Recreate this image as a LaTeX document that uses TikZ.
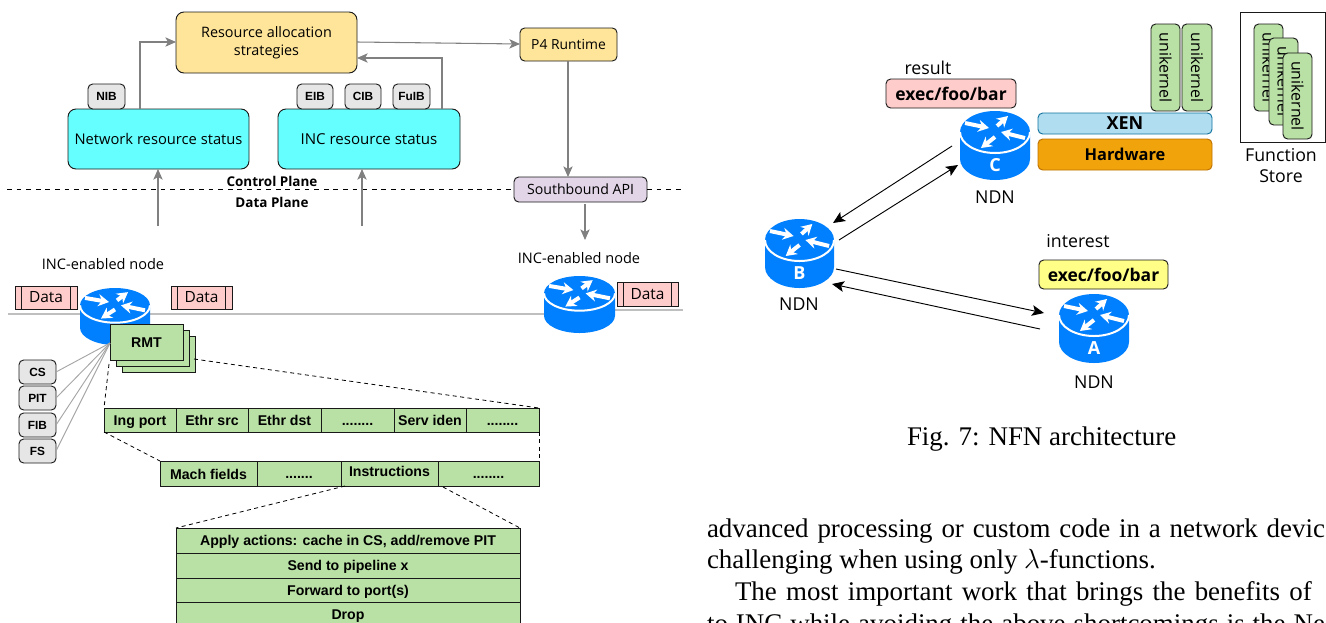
\documentclass[tikz,border=0pt]{standalone}
\usepackage{fontspec}
\usepackage{graphicx}
\setmainfont{Liberation Serif}
\newfontfamily\comicf{Open Sans}
\newfontfamily\arialf{Liberation Sans}
\usetikzlibrary{arrows.meta,calc}
\definecolor{amber}{HTML}{FFE599}
\definecolor{cyanbox}{HTML}{66FFFF}
\definecolor{greybox}{HTML}{E6E6E6}
\definecolor{greenbox}{HTML}{B9E0A5}
\definecolor{pinkbox}{HTML}{FFCCCC}
\definecolor{lilac}{HTML}{E1D5E7}
\definecolor{routerblue}{HTML}{007FFF}
\definecolor{xenfill}{HTML}{B1DDF0}
\definecolor{xenline}{HTML}{10739E}
\definecolor{hwfill}{HTML}{F0A30A}
\definecolor{hwline}{HTML}{BD7000}
\definecolor{yellowbox}{HTML}{FFFF88}
\definecolor{linkgrey}{HTML}{808080}
\definecolor{palegrey}{HTML}{A6A6A6}
\newcommand{\fsz}[1]{\fontsize{#1}{#1}\selectfont}
\tikzset{
  base/.style={draw=black!90,line width=.7pt,inner sep=0pt,outer sep=0pt,align=center,text=black},
  comic/.style={font=\comicf\fsz{10.8}},
  bigcomic/.style={font=\comicf\fsz{13.3}},
  bigbold/.style={font=\comicf\bfseries\fsz{13.1}},
  bigbox/.style={base,comic,rounded corners=6pt},
  smallbox/.style={base,comic,rounded corners=3.5pt},
  tagbox/.style={base,font=\arialf\bfseries\fsz{8.9},fill=greybox,rounded corners=3.5pt},
  cellbox/.style={base,font=\arialf\bfseries\fsz{10.6},fill=greenbox,text height=7.5pt,text depth=0pt},
  databox/.style={base,font=\comicf\fsz{11.6},fill=pinkbox,
    path picture={\draw[black!90,line width=.6pt]
      ([xshift=4.8pt]path picture bounding box.north west)--([xshift=4.8pt]path picture bounding box.south west)
      ([xshift=-4.8pt]path picture bounding box.north east)--([xshift=-4.8pt]path picture bounding box.south east);}},
  unibox/.style={base,font=\comicf\fsz{11.9},fill=greenbox,rounded corners=3.5pt},
  txt/.style={inner sep=0pt,outer sep=0pt,align=center,text=black,comic},
  link/.style={draw=linkgrey,line width=.8pt,-{Stealth[length=8pt,width=7pt,inset=2pt]}},
  spoke/.style={draw=palegrey,line width=.7pt},
  rail/.style={draw=black!25,line width=.9pt},
  zoomdash/.style={draw=black,line width=.6pt,dash pattern=on 3pt off 2.6pt},
  planedash/.style={draw=black,line width=.6pt,dash pattern=on 3.6pt off 3.6pt},
  ndnarrow/.style={draw=black,line width=.7pt,-{Stealth[length=9pt,width=8pt,inset=2pt]}},
  bodytext/.style={inner sep=0pt,outer sep=0pt,anchor=base west,font=\fsz{20.2}},
}
% name, x1,y1,x2,y2 (px), style, text
\newcommand{\rbox}[7]{%
  \pgfmathsetmacro{\cxv}{(#2+#4)/2}\pgfmathsetmacro{\cyv}{(#3+#5)/2}%
  \pgfmathsetmacro{\wv}{(#4-#2)*.75}\pgfmathsetmacro{\hv}{(#5-#3)*.75}%
  \node[#6,minimum width=\wv pt,minimum height=\hv pt] (#1) at (\cxv,\cyv) {#7};}
% name, x, y, w, h, label
\newcommand{\router}[6]{%
  \pgfmathsetmacro{\xs}{#4/70}\pgfmathsetmacro{\ys}{#5/69}%
  \begin{scope}[shift={(#2,#3)},xscale=\xs,yscale=\ys]
    \fill[routerblue] (0,21) .. controls (0,9.4) and (15.7,0) .. (35,0) .. controls (54.3,0) and (70,9.4) .. (70,21)
      -- (70,48) .. controls (70,59.6) and (54.3,69) .. (35,69) .. controls (15.7,69) and (0,59.6) .. (0,48) -- cycle;
    \draw[white,line width=1.5pt] (0,21) .. controls (0,32.6) and (15.7,42) .. (35,42) .. controls (54.3,42) and (70,32.6) .. (70,21);
    \begin{scope}[white,line width=3pt,-{Stealth[length=8pt,width=9pt]}]
      \draw (5,12) -- (29,17);
      \draw (37,15) -- (48,5);
      \draw (65,27) -- (41,21);
      \draw (35,26) -- (21,37);
    \end{scope}
    \node[inner sep=0pt,outer sep=0pt,text=white,font=\comicf\bfseries\fsz{13.5}] (#1) at (35,54) {#6};
  \end{scope}}
\begin{document}
\begin{tikzpicture}[x=.75pt,y=-.75pt]
\useasboundingbox (0,0) rectangle (1326,622);
\clip (0,0) rectangle (1326,622);

% ---- left figure: lines under everything
\coordinate (railL) at (8,314);
\coordinate (railM) at (544,314);
\coordinate (railN) at (615,310);
\coordinate (railR) at (683,310);
\draw[rail] (railL) -- (railM);
\draw[rail] (railN) -- (railR);

\rbox{alloc}{176}{12}{357}{73}{bigbox,fill=amber}{Resource allocation\\[2.8pt]strategies}
\rbox{net}{68}{109}{249}{169}{bigbox,fill=cyanbox,font=\comicf\fsz{11.05}}{Network resource status}
\rbox{inc}{278}{109}{460}{169}{bigbox,fill=cyanbox,font=\comicf\fsz{11.3}}{INC resource status}
\rbox{nib}{88}{84}{125}{109}{tagbox}{NIB}
\rbox{eib}{297}{84}{333}{109}{tagbox}{EIB}
\rbox{cib}{345}{84}{381}{109}{tagbox}{CIB}
\rbox{fuib}{393}{84}{430}{109}{tagbox}{FuIB}
\rbox{p4}{520}{28}{617}{61}{smallbox,fill=amber,font=\comicf\fsz{10.4}}{P4 Runtime}
\rbox{south}{514}{177}{647}{202}{smallbox,fill=lilac,font=\comicf\fsz{10.6}}{Southbound API}

\coordinate (dashL) at (7,189.5);
\coordinate (dashR) at (683,189.5);
\draw[planedash] (dashL) -- (south.west);
\draw[planedash] (south.east) -- (dashR);

\node[txt,font=\comicf\bfseries\fsz{10.1}] (cplane) at (272,181) {Control Plane};
\node[txt,font=\comicf\bfseries\fsz{10.1}] (dplane) at (272,202) {Data Plane};

\coordinate (netup) at (140,109);
\coordinate (allocin) at (176,42);
\draw[link] (netup) |- (allocin);
\coordinate (incup) at (442,109);
\coordinate (allocback) at (357,58);
\draw[link] (incup) |- (allocback);
\coordinate (allocout) at (357,42);
\coordinate (p4in) at (520,44);
\draw[link] (allocout) -- (p4in);
\coordinate (p4out) at (568,61);
\coordinate (southin) at (568,177);
\draw[link] (p4out) -- (southin);
\coordinate (southout) at (585,204);
\coordinate (southend) at (585,240);
\draw[link] (southout) -- (southend);
\coordinate (feedA) at (158,226);
\coordinate (feedAend) at (158,169);
\draw[link] (feedA) -- (feedAend);
\coordinate (feedB) at (362,226);
\coordinate (feedBend) at (362,169);
\draw[link] (feedB) -- (feedBend);

\node[txt,font=\comicf\fsz{10.9}] (incl) at (103,264) {INC-enabled node};
\node[txt,font=\comicf\fsz{10.9}] (incr) at (579,258) {INC-enabled node};

\router{rleft}{80}{288}{70}{57}{}
\router{rright}{544}{276}{71}{57}{}
\rbox{d1}{15}{286}{77}{309}{databox}{Data}
\rbox{d2}{171}{286}{232}{309}{databox}{Data}
\rbox{d3}{617}{282}{678}{306}{databox}{Data}

\rbox{rmtc}{122}{336}{195}{372}{cellbox}{}
\rbox{rmtb}{116}{330}{189}{366}{cellbox}{}
\rbox{rmt}{110}{324}{183}{360}{cellbox}{RMT}
\coordinate (hub) at (110,343);

\rbox{cs}{19}{360}{56}{384}{tagbox}{CS}
\rbox{pit}{19}{386}{56}{410}{tagbox}{PIT}
\rbox{fib}{19}{413}{56}{437}{tagbox}{FIB}
\rbox{fs}{19}{439}{56}{463}{tagbox}{FS}
\foreach \n in {cs,pit,fib,fs}{\draw[spoke] (\n.east) -- (hub);}

% tables
\rbox{a1}{104}{408}{176}{432}{cellbox}{Ing port}
\rbox{a2}{176}{408}{248}{432}{cellbox}{Ethr src}
\rbox{a3}{248}{408}{321}{432}{cellbox}{Ethr dst}
\rbox{a4}{321}{408}{394}{432}{cellbox}{........}
\rbox{a5}{394}{408}{466}{432}{cellbox}{Serv iden}
\rbox{a6}{466}{408}{539}{432}{cellbox}{........}
\rbox{b1}{160}{461}{257}{486}{cellbox}{\raisebox{-1pt}{Mach fields}}
\rbox{b2}{257}{461}{341}{486}{cellbox}{.......}
\rbox{b3}{341}{461}{438}{486}{cellbox}{\raisebox{1.6pt}{Instructions}}
\rbox{b4}{438}{461}{539}{486}{cellbox}{........}
\rbox{c1}{176}{528}{520}{553}{cellbox}{Apply actions: cache in CS, add/remove PIT}
\rbox{c2}{176}{553}{520}{578}{cellbox}{Send to pipeline x}
\rbox{c3}{176}{578}{520}{602}{cellbox}{Forward to port(s)}
\rbox{c4}{176}{602}{520}{627}{cellbox}{Drop}

\coordinate (za) at (109,364);
\coordinate (zb) at (194,359);
\draw[zoomdash] (za) -- (a1.north west);
\draw[zoomdash] (zb) -- (a6.north east);
\draw[zoomdash] (a1.south west) -- (b1.north west);
\draw[zoomdash] (a6.south east) -- (b4.north east);
\coordinate (zc) at (345,486);
\coordinate (zd) at (443,487);
\draw[zoomdash] (zc) -- (c1.north west);
\draw[zoomdash] (zd) -- (c1.north east);

% ---- right figure
\router{rc}{960}{111}{70}{69}{C}
\router{rb}{765}{219}{69}{69}{B}
\router{ra}{1059}{294}{70}{69}{A}

\node[txt,bigcomic] (lres) at (928,68) {result};
\rbox{execr}{886}{79}{1016}{108}{smallbox,fill=pinkbox,bigbold}{exec/foo/bar}
\node[txt,bigcomic] (ndnc) at (995,197) {NDN};
\node[txt,bigcomic] (ndnb) at (799,304) {NDN};
\node[txt,bigcomic] (ndna) at (1094,382) {NDN};
\node[txt,bigcomic] (lint) at (1078,241) {interest};
\rbox{execy}{1039}{260}{1168}{289}{smallbox,fill=yellowbox,bigbold}{exec/foo/bar}

\rbox{xen}{1038}{113}{1212}{134}{smallbox,draw=xenline,fill=xenfill,font=\comicf\bfseries\fsz{13.5}}{XEN}
\rbox{hw}{1038}{139}{1212}{170}{smallbox,draw=hwline,fill=hwfill,font=\comicf\bfseries\fsz{12.3}}{Hardware}
\rbox{u1}{1151}{24}{1180}{111}{unibox}{\rotatebox{-90}{unikernel}}
\rbox{u2}{1182}{24}{1212}{111}{unibox}{\rotatebox{-90}{unikernel}}

\rbox{store}{1240}{12.5}{1325.5}{142}{base,fill=white}{}
\rbox{s1}{1254}{24}{1283}{111}{unibox}{\rotatebox{-90}{unikernel}}
\rbox{s2}{1269}{38}{1298}{125}{unibox}{\rotatebox{-90}{unikernel}}
\rbox{s3}{1283}{53}{1312}{139}{unibox}{\rotatebox{-90}{unikernel}}
\node[txt,bigcomic] (lstore) at (1281,165.5) {Function\\[3pt]Store};

\coordinate (cb1) at (952,146);
\coordinate (cb2) at (833,223);
\draw[ndnarrow] (cb1) -- (cb2);
\coordinate (bc1) at (839,240);
\coordinate (bc2) at (958,165);
\draw[ndnarrow] (bc1) -- (bc2);
\coordinate (ba1) at (836,269);
\coordinate (ba2) at (1044,313);
\draw[ndnarrow] (ba1) -- (ba2);
\coordinate (ab1) at (1040,329);
\coordinate (ab2) at (832,284);
\draw[ndnarrow] (ab1) -- (ab2);

% ---- page text
\node[bodytext] (cap) at (907,445) {Fig. 7: NFN architecture};
\node[bodytext] (l1) at (707,537) {\makebox[463.5pt][s]{advanced processing or custom code in a network devic}};
\node[bodytext] (l2) at (707,568) {challenging when using only $\lambda$-functions.};
\node[bodytext] (l3) at (735,600) {\makebox[432.5pt][s]{The most important work that brings the benefits of}};
\node[bodytext] (l4) at (707,632) {\makebox[463.5pt][s]{to INC while avoiding the above shortcomings is the Ne}};
\end{tikzpicture}
\end{document}
